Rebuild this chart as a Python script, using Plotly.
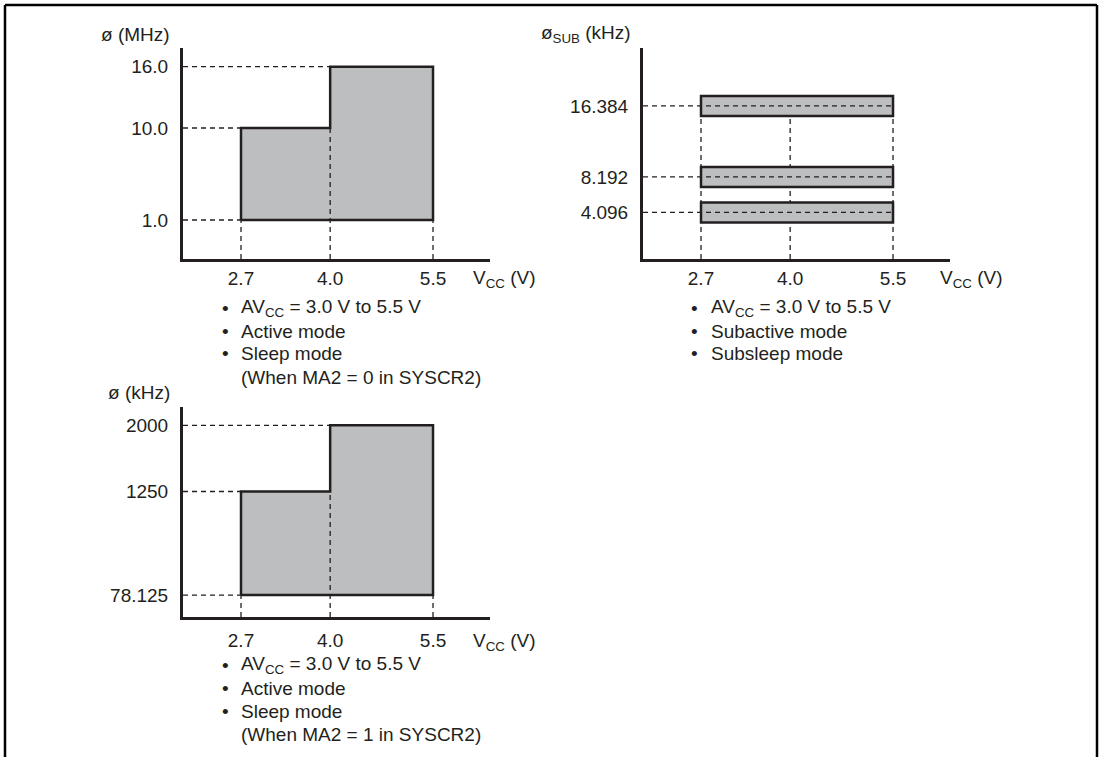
import plotly.graph_objects as go

W, H = 1103, 757
INK = '#231f20'
GREY = '#bcbec0'
FONT = 'Liberation Sans, Arial, Helvetica, sans-serif'
FS = 19

# supply voltage ticks, shared by all three panels
vcc_ticks = [2.7, 4.0, 5.5]

# panel 1: system clock (MHz), MA2 = 0
mhz_ticks = [16.0, 10.0, 1.0]
step_vcc = [2.7, 2.7, 4.0, 4.0, 5.5, 5.5, 2.7]
step_mhz = [1.0, 10.0, 10.0, 16.0, 16.0, 1.0, 1.0]

# panel 2: subclock (kHz)
sub_khz = [16.384, 8.192, 4.096]
sub_vcc = [2.7, 5.5]

# panel 3: system clock (kHz), MA2 = 1
khz_ticks = [2000, 1250, 78.125]
khz_labels = ['2000', '1250', '78.125']
step_khz = [78.125, 1250, 1250, 2000, 2000, 78.125, 78.125]

notes_1 = ['AV<sub>CC</sub> = 3.0 V to 5.5 V', 'Active mode', 'Sleep mode']
notes_2 = ['AV<sub>CC</sub> = 3.0 V to 5.5 V', 'Subactive mode', 'Subsleep mode']
notes_3 = ['AV<sub>CC</sub> = 3.0 V to 5.5 V', 'Active mode', 'Sleep mode']
note_1_tail = '(When MA2 = 0 in SYSCR2)'
note_3_tail = '(When MA2 = 1 in SYSCR2)'

X_RANGE = [1.854, 6.331]
Y1_RANGE = [-2.816, 17.83]
Y2_RANGE = [-1.272, 23.07]
Y3_RANGE = [-170.6, 2206.9]


def px(x):
    return x / W


def py(y):
    return 1 - y / H


fig = go.Figure()

# shaded operating areas
fig.add_trace(go.Scatter(x=step_vcc, y=step_mhz, xaxis='x', yaxis='y', mode='lines',
                         fill='toself', fillcolor=GREY, line=dict(color=INK, width=2.5),
                         hoverinfo='skip', showlegend=False))
fig.add_trace(go.Scatter(x=step_vcc, y=step_khz, xaxis='x3', yaxis='y3', mode='lines',
                         fill='toself', fillcolor=GREY, line=dict(color=INK, width=2.5),
                         hoverinfo='skip', showlegend=False))

shapes = []
dash = dict(color=INK, width=1.3, dash='5px,4px')


def hline(xr, yr, y, x1):
    shapes.append(dict(type='line', xref=xr, yref=yr, x0=X_RANGE[0], x1=x1, y0=y, y1=y, line=dash))


def vline(xr, yr, x, ymin, y1):
    shapes.append(dict(type='line', xref=xr, yref=yr, x0=x, x1=x, y0=ymin, y1=y1, line=dash))


# panel 1 guide lines
hline('x', 'y', step_mhz[3], step_vcc[2])
hline('x', 'y', step_mhz[1], step_vcc[0])
hline('x', 'y', step_mhz[0], step_vcc[0])
vline('x', 'y', vcc_ticks[0], Y1_RANGE[0], step_mhz[0])
vline('x', 'y', vcc_ticks[1], Y1_RANGE[0], step_mhz[1])
vline('x', 'y', vcc_ticks[2], Y1_RANGE[0], step_mhz[0])

# panel 3 guide lines
hline('x3', 'y3', step_khz[3], step_vcc[2])
hline('x3', 'y3', step_khz[1], step_vcc[0])
hline('x3', 'y3', step_khz[0], step_vcc[0])
vline('x3', 'y3', vcc_ticks[0], Y3_RANGE[0], step_khz[0])
vline('x3', 'y3', vcc_ticks[1], Y3_RANGE[0], step_khz[1])
vline('x3', 'y3', vcc_ticks[2], Y3_RANGE[0], step_khz[0])

# panel 2: verticals under the bars, bars, then horizontals on top
for v in vcc_ticks:
    vline('x2', 'y2', v, Y2_RANGE[0], max(sub_khz))
for f in sub_khz:
    shapes.append(dict(type='rect', xref='x2', yref='y2', x0=sub_vcc[0], x1=sub_vcc[1],
                       ysizemode='pixel', yanchor=f, y0=-10, y1=10,
                       fillcolor=GREY, line=dict(color=INK, width=2.5)))
for f in sub_khz:
    hline('x2', 'y2', f, sub_vcc[1])

# outer frame
frame = dict(color='black', width=2.5)
shapes.append(dict(type='line', xref='paper', yref='paper', x0=px(5), x1=px(5), y0=0, y1=py(5), line=frame))
shapes.append(dict(type='line', xref='paper', yref='paper', x0=px(5), x1=px(1097), y0=py(5), y1=py(5), line=frame))
shapes.append(dict(type='line', xref='paper', yref='paper', x0=px(1097), x1=px(1097), y0=py(5), y1=0, line=frame))

annotations = []


def text(x, y, s, anchor='left'):
    annotations.append(dict(xref='paper', yref='paper', x=px(x), y=py(y), text=s, showarrow=False,
                            xanchor=anchor, yanchor='middle', font=dict(size=FS, color=INK, family=FONT)))


# axis titles
text(172, 34, 'ø (MHz)', 'right')
text(633, 34, 'ø<sub>SUB</sub> (kHz)', 'right')
text(172, 393, 'ø (kHz)', 'right')
text(471, 279, 'V<sub>CC</sub> (V)')
text(938, 279, 'V<sub>CC</sub> (V)')
text(471, 642, 'V<sub>CC</sub> (V)')

# notes under each panel
for i, s in enumerate(notes_1):
    text(225, 308 + i * 23, '•', 'center')
    text(239, 308 + i * 23, s)
text(239, 308 + 3 * 23, note_1_tail)
for i, s in enumerate(notes_2):
    text(694, 308 + i * 23, '•', 'center')
    text(709, 308 + i * 23, s)
for i, s in enumerate(notes_3):
    text(225, 665 + i * 23, '•', 'center')
    text(239, 665 + i * 23, s)
text(239, 665 + 3 * 23, note_3_tail)

axis_common = dict(showgrid=False, zeroline=False, showline=True, linewidth=3, linecolor=INK,
                   ticks='', tickfont=dict(size=FS, color=INK, family=FONT), fixedrange=True)

fig.update_layout(
    width=W, height=H,
    margin=dict(l=0, r=0, t=0, b=0),
    paper_bgcolor='white', plot_bgcolor='white',
    font=dict(family=FONT, color=INK, size=FS),
    showlegend=False,
    xaxis=dict(domain=[px(183), px(490)], range=X_RANGE, anchor='y', tickvals=vcc_ticks,
               tickformat='.1f', ticklabelstandoff=0, **axis_common),
    yaxis=dict(domain=[py(259), py(48)], range=Y1_RANGE, anchor='x', tickvals=mhz_ticks,
               tickformat='.1f', ticklabelstandoff=8, **axis_common),
    xaxis2=dict(domain=[px(643), px(950)], range=X_RANGE, anchor='y2', tickvals=vcc_ticks,
                tickformat='.1f', ticklabelstandoff=0, **axis_common),
    yaxis2=dict(domain=[py(259), py(48)], range=Y2_RANGE, anchor='x2', tickvals=sub_khz,
                tickformat='.3f', ticklabelstandoff=8, **axis_common),
    xaxis3=dict(domain=[px(183), px(490)], range=X_RANGE, anchor='y3', tickvals=vcc_ticks,
                tickformat='.1f', ticklabelstandoff=4, **axis_common),
    yaxis3=dict(domain=[py(617), py(407)], range=Y3_RANGE, anchor='x3', tickvals=khz_ticks,
                ticktext=khz_labels, ticklabelstandoff=8, **axis_common),
    shapes=shapes,
    annotations=annotations,
)

# drop the default page margin so the figure sits at the window's corner
fig.write_html('out.html', config={'displayModeBar': False},
               post_script="document.body.style.margin = '0px';")
